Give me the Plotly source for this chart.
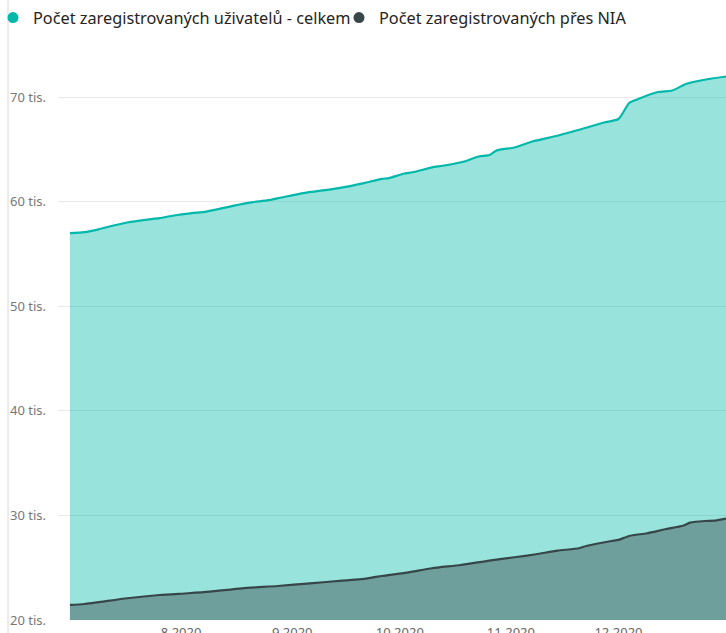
import plotly.graph_objects as go

# Total registered users
total_dates = ["2020-07-01", "2020-07-05", "2020-07-09", "2020-07-12", "2020-07-17", "2020-07-22",
               "2020-07-26", "2020-07-30", "2020-08-04", "2020-08-08", "2020-08-14", "2020-08-17",
               "2020-08-21", "2020-08-25", "2020-08-29", "2020-09-04", "2020-09-14", "2020-09-21",
               "2020-09-26", "2020-09-28", "2020-10-02", "2020-10-05", "2020-10-10", "2020-10-13",
               "2020-10-19", "2020-10-23", "2020-10-26", "2020-10-28", "2020-11-02", "2020-11-07",
               "2020-11-14", "2020-11-20", "2020-11-27", "2020-12-01", "2020-12-04", "2020-12-06",
               "2020-12-12", "2020-12-16", "2020-12-20", "2020-12-25", "2020-12-31"]
total_values = [57000, 57100, 57370, 57640, 58020, 58280,
                58440, 58690, 58920, 59070, 59500, 59720,
                59970, 60130, 60410, 60830, 61310, 61790,
                62200, 62270, 62680, 62850, 63290, 63450,
                63860, 64340, 64470, 64910, 65200, 65770,
                66320, 66890, 67590, 67920, 69450, 69760,
                70500, 70650, 71300, 71680, 71990]

# Registered via NIA
nia_dates = ["2020-07-01", "2020-07-05", "2020-07-17", "2020-07-26", "2020-08-03", "2020-08-09",
             "2020-08-18", "2020-08-28", "2020-09-06", "2020-09-15", "2020-09-22", "2020-09-26",
             "2020-10-03", "2020-10-10", "2020-10-18", "2020-10-26", "2020-11-02", "2020-11-08",
             "2020-11-14", "2020-11-20", "2020-11-22", "2020-11-29", "2020-12-01", "2020-12-04",
             "2020-12-09", "2020-12-14", "2020-12-19", "2020-12-21", "2020-12-25", "2020-12-28",
             "2020-12-31"]
nia_values = [21440, 21530, 22080, 22390, 22560, 22710,
              23030, 23250, 23510, 23760, 23990, 24210,
              24530, 24950, 25260, 25680, 26000, 26290,
              26630, 26860, 27080, 27560, 27660, 28040,
              28300, 28680, 29020, 29310, 29470, 29500,
              29690]

series_names = ["Počet zaregistrovaných uživatelů - celkem", "Počet zaregistrovaných přes NIA"]
series_colors = ["#01B8AA", "#374649"]
fill_colors = ["rgba(1,184,170,0.40)", "rgba(55,70,73,0.43)"]

y_tickvals = [20000, 30000, 40000, 50000, 60000, 70000]
y_ticktext = ["20 tis.", "30 tis.", "40 tis.", "50 tis.", "60 tis.", "70 tis."]
x_tickvals = ["2020-08-01", "2020-09-01", "2020-10-01", "2020-11-01", "2020-12-01"]
x_ticktext = ["8.2020", "9.2020", "10.2020", "11.2020", "12.2020"]

FONT = "Noto Sans"

W, H = 726, 633
ML, MT, MB = 58, 45, 13
PW = W - ML

fig = go.Figure()
for dates, vals, name, col, fcol in [
    (total_dates, total_values, series_names[0], series_colors[0], fill_colors[0]),
    (nia_dates, nia_values, series_names[1], series_colors[1], fill_colors[1]),
]:
    fig.add_trace(go.Scatter(
        x=dates, y=vals, mode="lines", name=name,
        line=dict(color=col, width=2.2, shape="spline", smoothing=0.6),
        fill="tozeroy", fillcolor=fcol, showlegend=False,
        hovertemplate="%{x}<br>%{y}<extra></extra>",
    ))

# legend entries with circle markers, one legend box each
for name, col, lg in zip(series_names, series_colors, ["legend", "legend2"]):
    fig.add_trace(go.Scatter(
        x=[None], y=[None], mode="markers", name=name,
        marker=dict(color=col, size=11, symbol="circle"),
        showlegend=True, legend=lg,
    ))

leg_common = dict(
    orientation="h", yanchor="middle", y=1 + (MT - 18) / (H - MT - MB),
    font=dict(family=FONT, size=16.3, color="#252423"),
    itemwidth=30, bgcolor="rgba(0,0,0,0)", borderwidth=0,
)

fig.update_layout(
    width=W, height=H,
    margin=dict(l=ML, r=0, t=MT, b=MB, autoexpand=False),
    paper_bgcolor="white", plot_bgcolor="white",
    font=dict(family=FONT, color="#666666"),
    legend=dict(x=(-7 - ML) / PW, xanchor="left", **leg_common),
    legend2=dict(x=(339 - ML) / PW, xanchor="left", **leg_common),
    xaxis=dict(
        range=["2020-06-27 16:00", "2020-12-31"],
        tickvals=x_tickvals, ticktext=x_ticktext,
        showgrid=False, zeroline=False, showline=False, ticks="",
        tickfont=dict(size=13, color="#666666"), automargin=False,
        ticklabelstandoff=3,
    ),
    yaxis=dict(
        range=[20000, 75000],
        tickvals=y_tickvals, ticktext=y_ticktext,
        showgrid=True, gridcolor="#E9E9E9", gridwidth=1,
        zeroline=False, showline=False, ticks="",
        tickfont=dict(size=13, color="#777777"), automargin=False,
        ticklabelstandoff=11,
    ),
    shapes=[dict(type="line", xref="paper", yref="paper",
                 x0=(8 - ML) / PW, x1=(8 - ML) / PW, y0=-0.05, y1=1.1,
                 line=dict(color="#D8D8D8", width=1))],
)

fig.write_html("out.html",
               config={"displayModeBar": False},
               post_script="document.body.style.margin='0';"
                           "document.documentElement.style.overflow='hidden';")
